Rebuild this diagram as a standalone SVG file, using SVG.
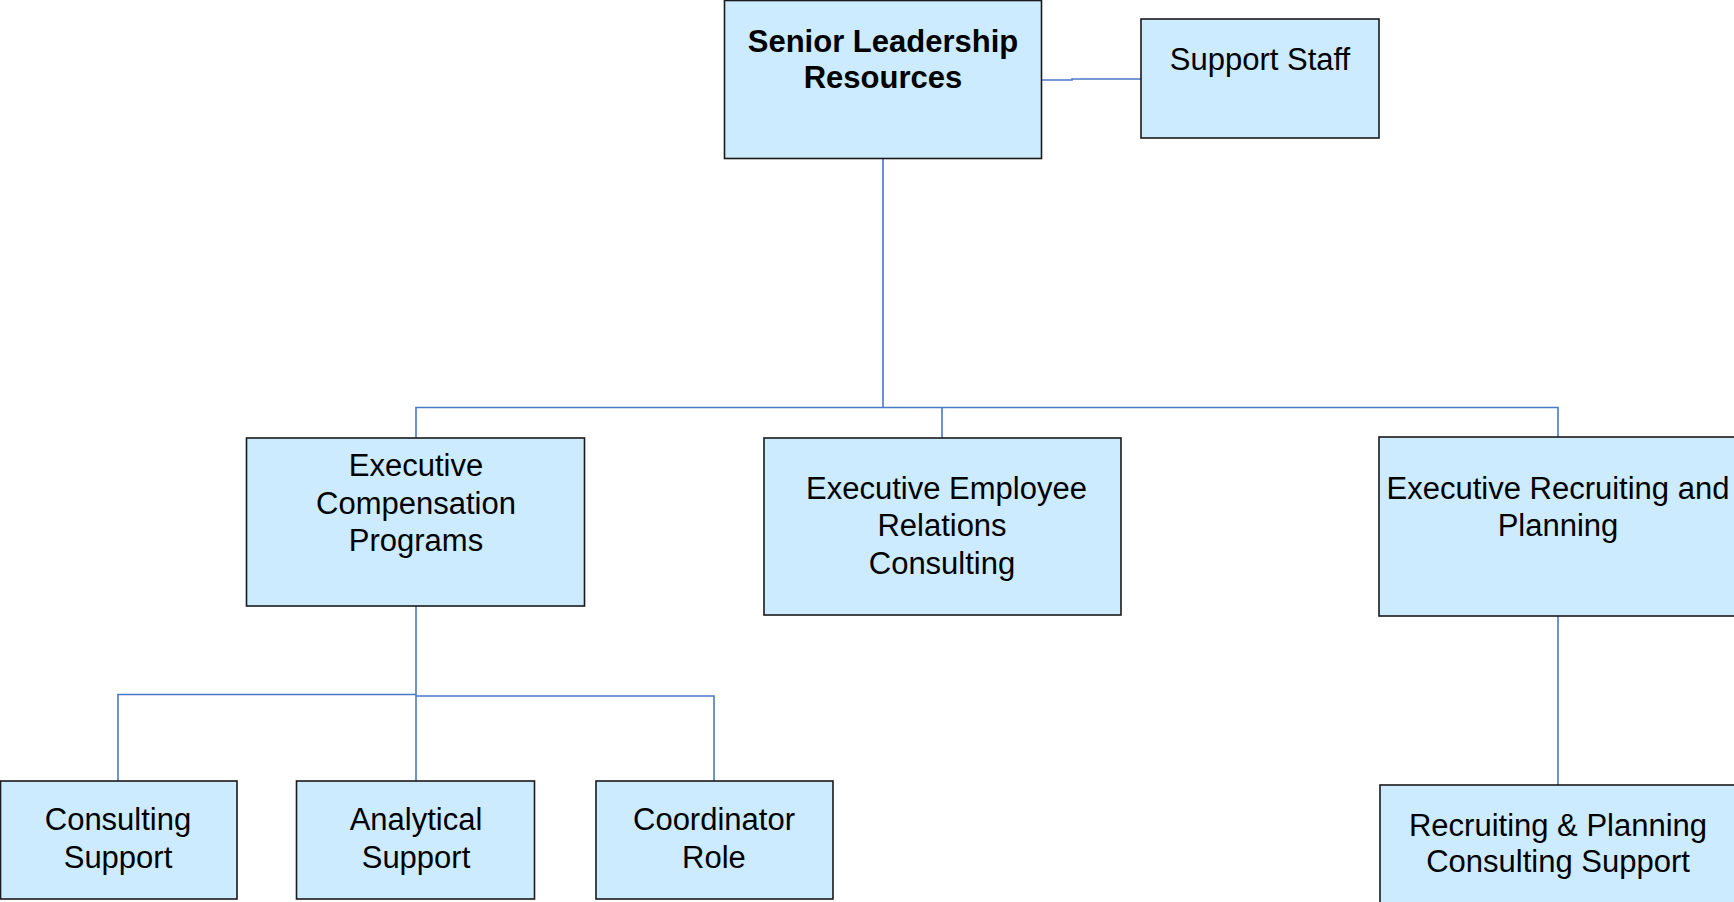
<svg xmlns="http://www.w3.org/2000/svg" width="1734" height="902" viewBox="0 0 1734 902">
<style>
.box{fill:#CCEBFF;stroke:#1a1a1a;stroke-width:1.6}
.t{font-family:"Liberation Sans",Arial,sans-serif;font-size:31px;fill:#000;text-anchor:middle}
.b{font-weight:bold}
.c{fill:none;stroke:#4A78C8;stroke-width:1.6}
</style>
<rect width="1734" height="902" fill="#fff"/>
<g id="connectors">
<path class="c" d="M1042,80 H1072 V79 H1141"/>
<path class="c" d="M883,158 V407.5"/>
<path class="c" d="M416,438 V407.5 H1558 V437"/>
<path class="c" d="M942,407.5 V438"/>
<path class="c" d="M1558,616 V785"/>
<path class="c" d="M416,606 V781"/>
<path class="c" d="M118,781 V694.5 H416"/>
<path class="c" d="M416,696 H714 V781"/>
</g>
<g id="senior">
<rect class="box" x="724.5" y="0.5" width="317" height="158"/>
<text class="t b" x="883" y="51.5">Senior Leadership</text>
<text class="t b" x="883" y="88">Resources</text>
</g>
<g id="support">
<rect class="box" x="1141" y="19" width="238" height="119"/>
<text class="t" x="1260" y="70">Support Staff</text>
</g>
<g id="comp">
<rect class="box" x="246.5" y="438" width="338" height="168"/>
<text class="t" x="416" y="476">Executive</text>
<text class="t" x="416" y="513.5">Compensation</text>
<text class="t" x="416" y="550.5">Programs</text>
</g>
<g id="relations">
<rect class="box" x="764" y="438" width="357" height="177"/>
<text class="t" x="946.5" y="498.5">Executive Employee</text>
<text class="t" x="942" y="535.5">Relations</text>
<text class="t" x="942" y="573.5">Consulting</text>
</g>
<g id="recruiting">
<rect class="box" x="1379" y="437" width="360" height="179"/>
<text class="t" x="1558" y="498.5">Executive Recruiting and</text>
<text class="t" x="1558" y="535.5">Planning</text>
</g>
<g id="consulting">
<rect class="box" x="0.5" y="781" width="236.5" height="118"/>
<text class="t" x="118" y="830">Consulting</text>
<text class="t" x="118" y="867.5">Support</text>
</g>
<g id="analytical">
<rect class="box" x="296.5" y="781" width="238" height="118"/>
<text class="t" x="416" y="830">Analytical</text>
<text class="t" x="416" y="867.5">Support</text>
</g>
<g id="coordinator">
<rect class="box" x="596" y="781" width="237" height="118"/>
<text class="t" x="714" y="830">Coordinator</text>
<text class="t" x="714" y="867.5">Role</text>
</g>
<g id="rp-support">
<rect class="box" x="1380" y="785" width="360" height="130"/>
<text class="t" x="1558" y="835.5">Recruiting &amp; Planning</text>
<text class="t" x="1558" y="872">Consulting Support</text>
</g>
</svg>
